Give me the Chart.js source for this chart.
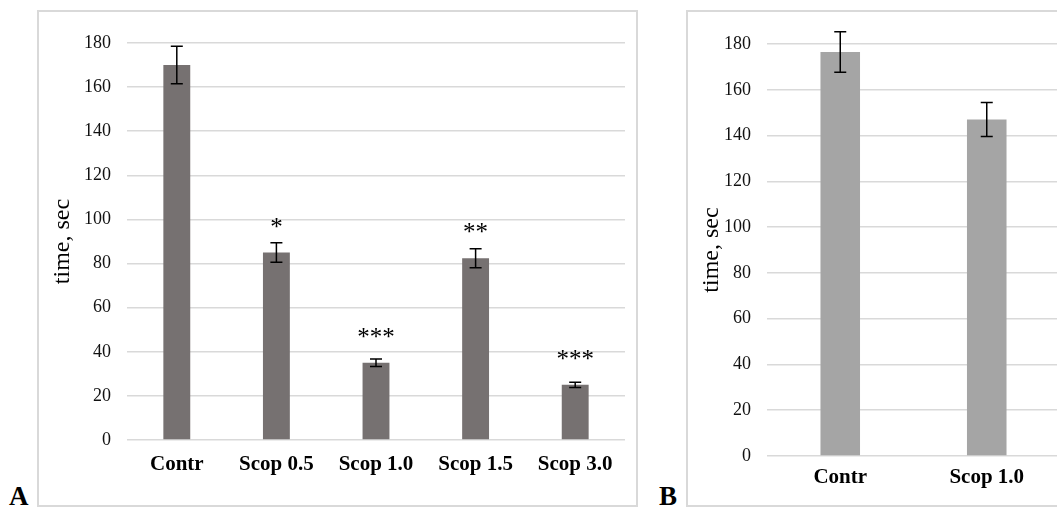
<!DOCTYPE html>
<html>
<head>
<meta charset="utf-8">
<script src="https://cdn.jsdelivr.net/npm/chart.js@4/dist/chart.umd.min.js"></script>
<style>
    html, body { margin: 0; padding: 0; background: #fff; overflow: hidden; }
    body { width: 1057px; height: 508px; position: relative; font-family: "Liberation Serif", "Times New Roman", serif; }
    .panel { position: absolute; border: 2px solid #d9d9d9; box-sizing: border-box; background: #fff; }
    #panel-a { left: 37px; top: 10px; width: 601px; height: 497px; }
    #panel-b { left: 686px; top: 10px; width: 400px; height: 497px; }
    .letter { position: absolute; font-weight: bold; font-size: 27px; line-height: 27px; color: #000; }
    canvas { display: block; }
</style>
</head>
<body>
<div class="panel" id="panel-a"><canvas id="chart-a" width="597" height="493"></canvas></div>
<div class="panel" id="panel-b"><canvas id="chart-b" width="396" height="493"></canvas></div>
<div class="letter" style="left:9px; top:483px;">A</div>
<div class="letter" style="left:659px; top:483px;">B</div>

<script>
// panel A: scopolamine doses
const groupsA = ["Contr", "Scop 0.5", "Scop 1.0", "Scop 1.5", "Scop 3.0"];
const timeA = [170, 85, 35, 82.4, 25];
const errA = [8.5, 4.4, 1.7, 4.3, 1.2];
const starsA = ["", "*", "***", "**", "***"];

// panel B
const groupsB = ["Contr", "Scop 1.0"];
const timeB = [176.5, 147];
const errB = [8.8, 7.4];

const yTicks = [0, 20, 40, 60, 80, 100, 120, 140, 160, 180];

const serif = "'Liberation Serif', 'Times New Roman', serif";

// draws the +/- error whiskers and the significance stars over each bar
const errorBars = {
    id: "errorBars",
    afterDatasetsDraw(chart, args, opts) {
        const ctx = chart.ctx;
        const yScale = chart.scales.y;
        const meta = chart.getDatasetMeta(0);
        const values = chart.data.datasets[0].data;
        ctx.save();
        ctx.strokeStyle = "#000";
        ctx.lineWidth = 1.5;
        meta.data.forEach((bar, i) => {
            let top = yScale.getPixelForValue(values[i] + opts.errors[i]);
            let bottom = yScale.getPixelForValue(values[i] - opts.errors[i]);
            ctx.beginPath();
            ctx.moveTo(bar.x, top);
            ctx.lineTo(bar.x, bottom);
            ctx.moveTo(bar.x - 6, top);
            ctx.lineTo(bar.x + 6, top);
            ctx.moveTo(bar.x - 6, bottom);
            ctx.lineTo(bar.x + 6, bottom);
            ctx.stroke();
        });
        if (opts.stars) {
            ctx.fillStyle = "#000";
            ctx.font = "25px " + serif;
            ctx.textAlign = "center";
            ctx.textBaseline = "alphabetic";
            meta.data.forEach((bar, i) => {
                if (opts.stars[i]) {
                    ctx.fillText(opts.stars[i], bar.x, bar.y - 18);
                }
            });
        }
        ctx.restore();
    }
};

function makeChart(canvasId, labels, values, errors, stars, color, box) {
    const ctx = document.getElementById(canvasId).getContext("2d");
    return new Chart(ctx, {
        type: "bar",
        data: {
            labels: labels,
            datasets: [{
                data: values,
                backgroundColor: color,
                borderWidth: 0,
                barPercentage: 1,
                categoryPercentage: box.barShare
            }]
        },
        options: {
            responsive: false,
            animation: false,
            layout: { padding: { top: box.top, right: box.right, left: 0, bottom: 0 } },
            plugins: {
                legend: { display: false },
                tooltip: { enabled: false },
                errorBars: { errors: errors, stars: stars }
            },
            scales: {
                x: {
                    grid: { display: false, drawTicks: false },
                    border: { display: false },
                    ticks: {
                        color: "#000",
                        padding: box.labelGap,
                        font: { family: serif, size: 21, weight: "bold" }
                    },
                    afterFit: (scale) => { scale.height = box.axisHeight; }
                },
                y: {
                    min: 0,
                    max: 180,
                    afterBuildTicks: (scale) => { scale.ticks = yTicks.map(v => ({ value: v })); },
                    grid: { color: "#d9d9d9", lineWidth: 1.5, drawTicks: false },
                    border: { display: false },
                    ticks: {
                        color: "#111",
                        padding: 16,
                        font: { family: serif, size: 18 }
                    },
                    title: {
                        display: true,
                        text: "time, sec",
                        color: "#000",
                        padding: { top: 9, bottom: 0 },
                        font: { family: serif, size: 24 }
                    },
                    afterFit: (scale) => { scale.width = box.axisWidth; }
                }
            }
        },
        plugins: [errorBars]
    });
}

makeChart("chart-a", groupsA, timeA, errA, starsA, "#767171",
    { top: 31, right: 11, axisWidth: 88, axisHeight: 65, labelGap: 12, barShare: 0.27 });
makeChart("chart-b", groupsB, timeB, errB, null, "#a5a5a5",
    { top: 32, right: 24, axisWidth: 79, axisHeight: 49, labelGap: 9, barShare: 0.27 });
</script>
</body>
</html>
